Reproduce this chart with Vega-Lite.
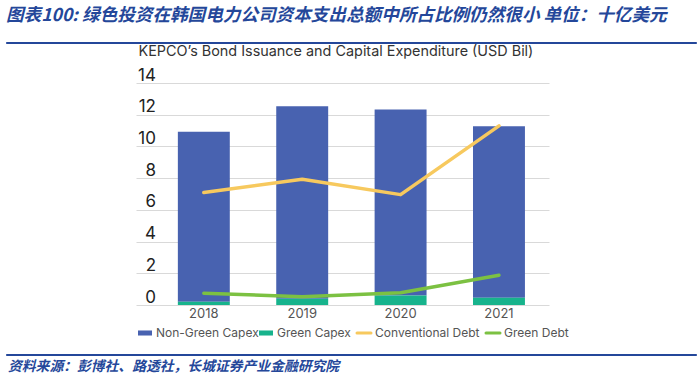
{
  "$schema": "https://vega.github.io/schema/vega-lite/v6.json",
  "padding": {"left": 5, "right": 5, "top": 6, "bottom": 0},
  "spacing": -3,
  "background": "white",
  "resolve": {"scale": {"color": "independent"}, "legend": {"color": "independent"}},
  "config": {"view": {"stroke": null}, "font": "Inter"},
  "vconcat": [
    {
      "width": 690,
      "height": 1,
      "view": {"stroke": "#24479a", "strokeWidth": 1, "fill": "#24479a"},
      "title": {
        "text": "图表100: 绿色投资在韩国电力公司资本支出总额中所占比例仍然很小 单位：十亿美元",
        "anchor": "start",
        "font": "Noto Sans CJK SC",
        "fontSize": 17.6,
        "fontWeight": "bold",
        "fontStyle": "italic",
        "color": "#24479a",
        "offset": 15
      },
      "data": {"values": [{}]},
      "mark": {"type": "point", "opacity": 0},
      "encoding": {}
    },
    {
      "spacing": 10,
      "hconcat": [
        {
          "width": 120,
          "height": 1,
          "data": {"values": [{}]},
          "mark": {"type": "point", "opacity": 0},
          "encoding": {}
        },
        {
          "width": 413,
          "height": 222,
          "title": {
            "text": "KEPCO’s Bond Issuance and Capital Expenditure (USD Bil)",
            "anchor": "start",
            "frame": "group",
            "dx": 2.5,
            "font": "Inter",
            "fontSize": 14.4,
            "fontWeight": "normal",
            "color": "#333333",
            "offset": 7
          },
          "encoding": {
            "x": {
              "field": "year",
              "type": "nominal",
              "scale": {"paddingInner": 0.472, "paddingOuter": 0.335, "align": 0.635},
              "axis": {
                "domain": false,
                "ticks": false,
                "labelAngle": 0,
                "labelFont": "Inter",
                "labelFontSize": 13,
                "labelColor": "#555555",
                "labelPadding": 2.5,
                "title": null,
                "grid": false
              }
            },
            "y": {
              "field": "value",
              "type": "quantitative",
              "scale": {"domain": [0, 14], "nice": false},
              "axis": {
                "values": [0, 2, 4, 6, 8, 10, 12, 14],
                "grid": true,
                "gridColor": "#d9d9d9",
                "gridWidth": 1.2,
                "domain": false,
                "ticks": false,
                "tickSize": 0,
                "labelFont": "Inter",
                "labelFontSize": 17,
                "labelColor": "#222222",
                "labelAlign": "right",
                "labelBaseline": "alphabetic",
                "labelPadding": -19.5,
                "labelOffset": -3,
                "labelFlush": false,
                "labelOverlap": false,
                "title": ".",
                "titleOpacity": 0,
                "titleX": 5,
                "titleY": 271,
                "titleAngle": 0,
                "titleAlign": "left",
                "titleBaseline": "bottom"
              }
            }
          },
          "layer": [
            {
              "data": {
                "values": [
                  {"year": "2018", "series": "Non-Green Capex", "value": 10.72},
                  {"year": "2018", "series": "Green Capex", "value": 0.2},
                  {"year": "2019", "series": "Non-Green Capex", "value": 12.13},
                  {"year": "2019", "series": "Green Capex", "value": 0.4},
                  {"year": "2020", "series": "Non-Green Capex", "value": 11.73},
                  {"year": "2020", "series": "Green Capex", "value": 0.6},
                  {"year": "2021", "series": "Non-Green Capex", "value": 10.83},
                  {"year": "2021", "series": "Green Capex", "value": 0.45}
                ]
              },
              "mark": {"type": "bar"},
              "encoding": {
                "color": {
                  "field": "series",
                  "type": "nominal",
                  "scale": {
                    "domain": ["Non-Green Capex", "Green Capex", "Conventional Debt", "Green Debt"],
                    "range": ["#4862b0", "#17b38c", "#f7c95e", "#7cc142"]
                  },
                  "legend": {
                    "orient": "none",
                    "legendX": 133,
                    "legendY": 244,
                    "direction": "horizontal",
                    "title": null,
                    "symbolSize": 196,
                    "labelFont": "Inter",
                    "labelFontSize": 12,
                    "labelColor": "#555555",
                    "labelOffset": 5,
                    "columnPadding": 0,
                    "padding": 0,
                    "encode": {
                      "symbols": {
                        "update": {
                          "shape": {"signal": "(datum.value == 'Conventional Debt' || datum.value == 'Green Debt') ? 'stroke' : 'M-1,-0.36L1,-0.36L1,0.36L-1,0.36Z'"},
                          "fill": {"signal": "datum.value == 'Non-Green Capex' ? '#4862b0' : datum.value == 'Green Capex' ? '#17b38c' : 'transparent'"},
                          "stroke": {"signal": "datum.value == 'Conventional Debt' ? '#f7c95e' : datum.value == 'Green Debt' ? '#7cc142' : 'transparent'"},
                          "strokeWidth": {"signal": "(datum.value == 'Conventional Debt' || datum.value == 'Green Debt') ? 3 : 0"},
                          "strokeCap": {"value": "round"},
                          "opacity": {"value": 1}
                        }
                      }
                    }
                  }
                },
                "order": {"field": "series", "sort": "ascending"}
              }
            },
            {
              "data": {
                "values": [
                  {"year": "2018", "series": "Conventional Debt", "value": 7.1},
                  {"year": "2019", "series": "Conventional Debt", "value": 7.93},
                  {"year": "2020", "series": "Conventional Debt", "value": 6.96},
                  {"year": "2021", "series": "Conventional Debt", "value": 11.3},
                  {"year": "2018", "series": "Green Debt", "value": 0.74},
                  {"year": "2019", "series": "Green Debt", "value": 0.52},
                  {"year": "2020", "series": "Green Debt", "value": 0.77},
                  {"year": "2021", "series": "Green Debt", "value": 1.88}
                ]
              },
              "mark": {"type": "line", "strokeWidth": 3.5, "strokeCap": "round", "strokeJoin": "round"},
              "encoding": {
                "color": {"field": "series", "type": "nominal"}
              }
            }
          ]
        }
      ]
    },
    {
      "width": 690,
      "height": 1,
      "view": {"stroke": "#24479a", "strokeWidth": 1, "fill": "#24479a"},
      "title": {
        "text": "资料来源：彭博社、路透社，长城证券产业金融研究院",
        "orient": "bottom",
        "anchor": "start",
        "dx": 2,
        "font": "Noto Sans CJK SC",
        "fontSize": 13.8,
        "fontStyle": "italic",
        "color": "#24479a",
        "offset": 3
      },
      "data": {"values": [{}]},
      "mark": {"type": "point", "opacity": 0},
      "encoding": {}
    }
  ]
}
